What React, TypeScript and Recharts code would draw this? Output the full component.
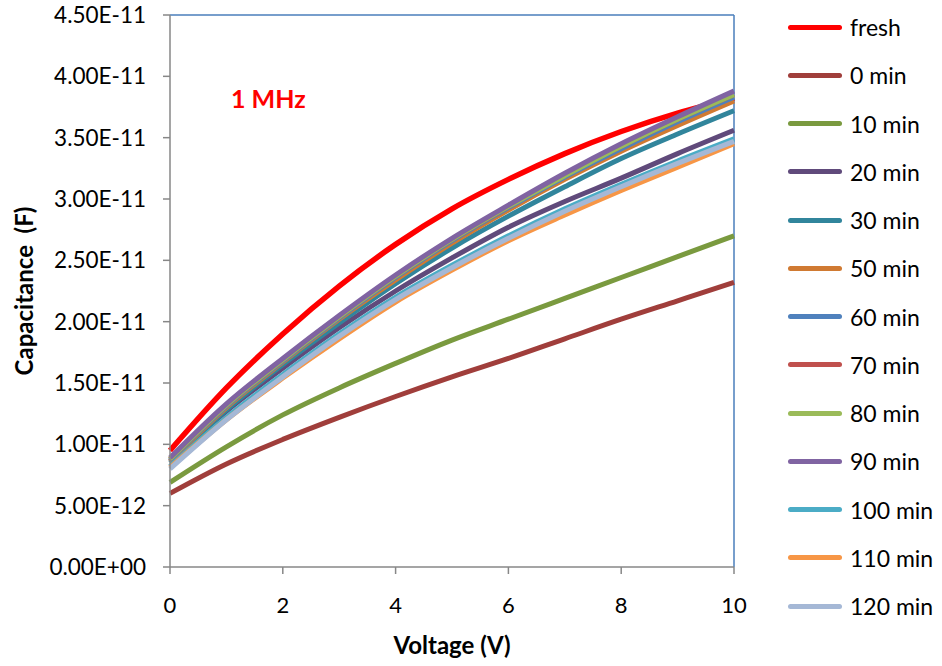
import React from "react";
import { LineChart, Line, XAxis, YAxis, ReferenceLine, Label } from "recharts";

// Voltage (V)
const voltages = [0, 1, 2, 3, 4, 5, 6, 7, 8, 9, 10];

// capacitance, in units of 1E-11 F
const fresh = [0.95, 1.46, 1.9, 2.29, 2.63, 2.92, 3.16, 3.37, 3.55, 3.7, 3.82];
const min0 = [0.6, 0.84, 1.04, 1.22, 1.39, 1.55, 1.7, 1.86, 2.02, 2.17, 2.32];
const min10 = [0.69, 0.98, 1.24, 1.46, 1.66, 1.85, 2.02, 2.19, 2.36, 2.53, 2.7];
const min20 = [0.86, 1.27, 1.62, 1.95, 2.25, 2.52, 2.77, 2.98, 3.17, 3.37, 3.56];
const min30 = [0.85, 1.28, 1.65, 1.99, 2.31, 2.6, 2.86, 3.1, 3.33, 3.53, 3.72];
const min50 = [0.86, 1.3, 1.67, 2.02, 2.34, 2.64, 2.91, 3.16, 3.39, 3.6, 3.8];
const min60 = [0.87, 1.31, 1.68, 2.03, 2.36, 2.66, 2.93, 3.18, 3.41, 3.63, 3.83];
const min70 = [0.88, 1.32, 1.69, 2.04, 2.37, 2.67, 2.94, 3.2, 3.43, 3.65, 3.85];
const min80 = [0.88, 1.32, 1.69, 2.04, 2.37, 2.67, 2.94, 3.19, 3.43, 3.65, 3.85];
const min90 = [0.89, 1.33, 1.7, 2.05, 2.38, 2.68, 2.95, 3.21, 3.45, 3.67, 3.88];
const min100 = [0.82, 1.22, 1.57, 1.9, 2.2, 2.46, 2.7, 2.92, 3.12, 3.31, 3.49];
const min110 = [0.81, 1.2, 1.54, 1.86, 2.16, 2.42, 2.66, 2.87, 3.07, 3.26, 3.45];
const min120 = [0.8, 1.2, 1.55, 1.88, 2.18, 2.44, 2.68, 2.9, 3.1, 3.29, 3.47];

const seriesNames = [
  "fresh", "0 min", "10 min", "20 min", "30 min", "50 min", "60 min",
  "70 min", "80 min", "90 min", "100 min", "110 min", "120 min",
];
const seriesValues = [
  fresh, min0, min10, min20, min30, min50, min60,
  min70, min80, min90, min100, min110, min120,
];
const seriesColors = [
  "#FF0000", "#A03E3B", "#7A9A3F", "#604A7B", "#31859C", "#D07A32", "#4F81BD",
  "#C0504D", "#9BBB59", "#8064A2", "#4BACC6", "#F79646", "#A5B8D6",
];

const xTicks = [0, 2, 4, 6, 8, 10];
const yTicks = [0, 0.5, 1, 1.5, 2, 2.5, 3, 3.5, 4, 4.5];

const data = voltages.map((v, i) => {
  const row: Record<string, number> = { v };
  seriesNames.forEach((n, k) => {
    row[n] = seriesValues[k][i];
  });
  return row;
});

// Excel style scientific labels, e.g. 4.50E-11, 0.00E+00
const fmtSci = (val: number) => {
  const [m, e] = (val * 1e-11).toExponential(2).split("e");
  return `${m}E${e[0]}${e.slice(1).padStart(2, "0")}`;
};

const FONT = "Lato, 'Open Sans', sans-serif";
const axisColor = "#878787";
const borderColor = "#4A7EBB";

export default function App() {
  return (
    <div style={{ position: "absolute", left: 0, top: 0, width: 942, height: 666, background: "#fff", fontFamily: FONT }}>
      <LineChart
        width={942}
        height={666}
        data={data}
        margin={{ top: 15, right: 208, left: 0, bottom: 0 }}
      >
        <XAxis
          dataKey="v"
          type="number"
          domain={[0, 10]}
          ticks={xTicks}
          tick={{ fontSize: 22, fill: "#000", fontFamily: FONT, dy: 7 }}
          tickSize={7}
          tickMargin={16}
          stroke={axisColor}
          strokeWidth={1.5}
          height={99}
        >
          <Label
            value="Voltage (V)"
            position="insideBottom"
            offset={12}
            style={{ fontSize: 24, fontWeight: 700, fill: "#000", fontFamily: FONT }}
          />
        </XAxis>
        <YAxis
          type="number"
          domain={[0, 4.5]}
          ticks={yTicks}
          tickFormatter={fmtSci}
          tick={{ fontSize: 22.5, fill: "#000", fontFamily: FONT }}
          tickSize={7}
          tickMargin={17}
          stroke={axisColor}
          strokeWidth={1.5}
          width={170}
        >
          <Label
            value={"Capacitance\u00A0 (F)"}
            angle={-90}
            position="insideLeft"
            offset={24}
            style={{ textAnchor: "middle", fontSize: 24, fontWeight: 700, fill: "#000", fontFamily: FONT }}
          />
        </YAxis>
        <ReferenceLine y={4.5} stroke={borderColor} strokeWidth={1.5} />
        <ReferenceLine x={10} stroke={borderColor} strokeWidth={1.5} />
        {seriesNames.map((n, k) => (
          <Line
            key={n}
            type="monotone"
            dataKey={n}
            stroke={seriesColors[k]}
            strokeWidth={k === 0 ? 5.5 : 5}
            dot={false}
            isAnimationActive={false}
          />
        ))}
      </LineChart>

      <div style={{ position: "absolute", left: 231, top: 82, color: "#FF0000", fontWeight: 700, fontSize: 25, lineHeight: "32px" }}>
        1 MHz
      </div>

      {/* legend */}
      {seriesNames.map((n, k) => (
        <div
          key={n}
          style={{ position: "absolute", left: 788, top: 27 + k * 48.25 - 15, height: 30, display: "flex", alignItems: "center" }}
        >
          <div style={{ width: 54, height: 5, borderRadius: 3, background: seriesColors[k] }} />
          <span style={{ marginLeft: 8, fontSize: 23, color: "#000" }}>{n}</span>
        </div>
      ))}
    </div>
  );
}
